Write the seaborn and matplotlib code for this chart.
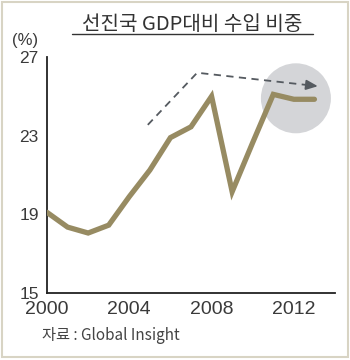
import matplotlib
matplotlib.use("Agg")
import matplotlib.pyplot as plt
import seaborn as sns
import pandas as pd
from matplotlib.patches import Ellipse
from matplotlib.lines import Line2D
from matplotlib.patches import Rectangle

# ---- data ----
years = [2000, 2001, 2002, 2003, 2004, 2005, 2006, 2007, 2008, 2009, 2010, 2011, 2012, 2013]
share = [19.1, 18.35, 18.05, 18.45, 19.9, 21.25, 22.9, 23.45, 25.0, 20.15, 22.65, 25.1, 24.85, 24.85]
x_ticks = [2000, 2004, 2008, 2012]
y_ticks = [15, 19, 23, 27]
trend_x = [2004.9, 2007.3, 2013.3]
trend_y = [23.55, 26.2, 25.5]
highlight_center = (2012.1, 24.9)

title = "선진국 GDP대비 수입 비중"
source = "자료 : Global Insight"

sns.set_style("white")
plt.rcParams['font.family'] = ['Noto Sans CJK KR', 'DejaVu Sans']

fig = plt.figure(figsize=(3.5, 3.6), dpi=100)
ax = fig.add_axes([47/350, 1-293/360, (335-47)/350, (293-57)/360])

df = pd.DataFrame({"year": years, "share": share})

# highlight circle (70 px diameter)
ax.add_patch(Ellipse(highlight_center, width=70/20.57, height=70/19.67,
                     facecolor="#d4d5d8", edgecolor="none", zorder=1))

sns.lineplot(data=df, x="year", y="share", ax=ax, color="#978b62",
             linewidth=3.8, zorder=3, solid_joinstyle="miter")

# dashed trend arrow
ax.plot(trend_x[:-1] + [trend_x[-1] - 0.35], trend_y[:-1] + [trend_y[-1] + 0.04],
        color="#555a60", linewidth=1.3, dashes=(4, 3), zorder=4)
ax.annotate("", xy=(trend_x[-1], trend_y[-1]),
            xytext=(trend_x[-1] - 0.6, trend_y[-1] + 0.07),
            arrowprops=dict(arrowstyle="-|>,head_length=0.7,head_width=0.3",
                            color="#555a60", lw=1.3), zorder=4)

ax.set_xlim(2000, 2014)
ax.set_ylim(15, 27)
ax.set_xticks(x_ticks)
ax.set_yticks(y_ticks)
ax.set_xticklabels([str(v) for v in x_ticks])
ax.set_yticklabels([str(v) for v in y_ticks])
ax.set_xlabel("")
ax.set_ylabel("")

for s in ["top", "right"]:
    ax.spines[s].set_visible(False)
for s in ["left", "bottom"]:
    ax.spines[s].set_color("#222222")
    ax.spines[s].set_linewidth(1.3)

ax.tick_params(axis="x", direction="out", length=5, width=1.3, color="#222222",
               pad=1, labelsize=14, labelcolor="#3a3a3a")
ax.tick_params(axis="y", direction="out", length=5, width=1.3, color="#222222",
               pad=1, labelsize=12.5, labelcolor="#3a3a3a")
for lab in ax.get_xticklabels() + ax.get_yticklabels():
    lab.set_family(["Liberation Sans", "DejaVu Sans"])

# unit label
fig.text(25/350, 1-40/360, "(%)", ha="center", va="center", fontsize=12,
         color="#3a3a3a", family=["Liberation Sans", "DejaVu Sans"])

# title + underline
fig.text(192/350, 1-24/360, title, ha="center", va="center", fontsize=14.5,
         color="#333333", fontweight="normal")
fig.add_artist(Line2D([72/350, 313/350], [1-34/360, 1-34/360],
                      transform=fig.transFigure, color="#333333", linewidth=1.0))

# source
fig.text(42/350, 1-335/360, source, ha="left", va="center", fontsize=11,
         color="#444444")

# outer frame
fig.add_artist(Rectangle((2/350, 3/360), 346/350, 355/360, transform=fig.transFigure,
                         fill=False, edgecolor="#d8d4c4", linewidth=1.5))

fig.savefig("out.png", dpi=100)
